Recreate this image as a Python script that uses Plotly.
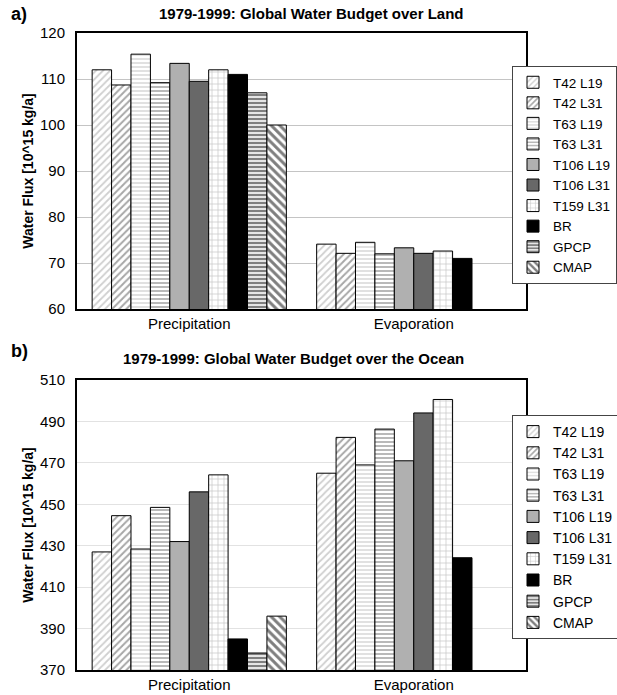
import plotly.graph_objects as go

# Data: global water budget 1979-1999 (10^15 kg/a)
categories = ["Precipitation", "Evaporation"]
series_names = ["T42 L19", "T42 L31", "T63 L19", "T63 L31", "T106 L19",
                "T106 L31", "T159 L31", "BR", "GPCP", "CMAP"]

land_precip = [112.0, 108.7, 115.4, 109.2, 113.4, 109.5, 112.0, 111.0, 107.0, 100.0]
land_evap = [74.1, 72.1, 74.5, 72.0, 73.3, 72.1, 72.6, 71.0, None, None]

ocean_precip = [427.0, 444.5, 428.4, 448.5, 432.0, 456.0, 464.2, 385.0, 378.2, 396.0]
ocean_evap = [465.0, 482.3, 469.0, 486.3, 471.0, 494.1, 500.6, 424.2, None, None]

land_ticks = [60, 70, 80, 90, 100, 110, 120]
ocean_ticks = [370, 390, 410, 430, 450, 470, 490, 510]

# Fill style per series: (background, pattern shape, pattern colour, size, solidity)
styles = [
    ("white", "/", "#a0a0a0", 5, 0.35),
    ("white", "/", "#505050", 5, 0.4),
    ("white", "-", "#a8a8a8", 4, 0.35),
    ("white", "-", "#505050", 4, 0.4),
    ("#b0b0b0", "", None, 8, 0.3),
    ("#686868", "", None, 8, 0.3),
    ("white", "+", "#8c8c8c", 6, 0.22),
    ("black", "", None, 8, 0.3),
    ("white", "-", "black", 4, 0.6),
    ("white", "\\", "black", 6, 0.5),
]

W, H = 617, 695
FONT = "Liberation Sans, Arial, sans-serif"

fig = go.Figure()


def add_group(values_p, values_e, xaxis, yaxis, legend):
    for i, name in enumerate(series_names):
        bg, shape, fg, size, sol = styles[i]
        pattern = dict(shape=shape, size=size, solidity=sol, fillmode="overlay")
        if fg:
            pattern["fgcolor"] = fg
            pattern["bgcolor"] = bg
        fig.add_trace(go.Bar(
            name=name, x=categories, y=[values_p[i], values_e[i]],
            xaxis=xaxis, yaxis=yaxis, legend=legend,
            marker=dict(color=bg, line=dict(color="black", width=1),
                        pattern=pattern),
        ))


add_group(land_precip, land_evap, "x", "y", "legend")
add_group(ocean_precip, ocean_evap, "x2", "y2", "legend2")

x_dom = [77 / W, 526 / W]
top_dom = [1 - 309 / H, 1 - 33 / H]
bot_dom = [1 - 670 / H, 1 - 380 / H]

axis_common = dict(showline=True, linecolor="black", linewidth=2, mirror=True,
                   automargin=False,
                   tickfont=dict(family=FONT, size=15, color="black"))

ytitle = dict(text="<b>Water Flux [10^15 kg/a]</b>", standoff=3,
              font=dict(family=FONT, size=14))

legend_common = dict(
    x=512 / W, xanchor="left", yanchor="top",
    bordercolor="#444444", borderwidth=1, bgcolor="white",
    itemwidth=30, traceorder="normal", tracegroupgap=0,
)

fig.update_layout(
    width=W, height=H,
    margin=dict(l=0, r=0, t=0, b=0, autoexpand=False),
    paper_bgcolor="white", plot_bgcolor="white",
    barmode="group", bargap=0.135, bargroupgap=0,
    font=dict(family=FONT, color="black"),
    xaxis=dict(domain=x_dom, anchor="y", **axis_common),
    yaxis=dict(domain=top_dom, anchor="x", range=[60, 120], tickvals=land_ticks,
               showgrid=True, gridcolor="#c4c4c4", gridwidth=1,
               ticklabelstandoff=7, title=ytitle, **axis_common),
    xaxis2=dict(domain=x_dom, anchor="y2", **axis_common),
    yaxis2=dict(domain=bot_dom, anchor="x2", range=[370, 510], tickvals=ocean_ticks,
                showgrid=True, gridcolor="#e2e2e2", gridwidth=1,
                ticklabelstandoff=7, title=ytitle, **axis_common),
    legend=dict(y=1 - 66 / H, font=dict(family=FONT, size=13.5, color="black"),
                **legend_common),
    legend2=dict(y=1 - 415 / H, font=dict(family=FONT, size=14, color="black"),
                 **legend_common),
    annotations=[
        dict(text="<b>a)</b>", x=9 / W, y=1 - 14 / H, xref="paper", yref="paper",
             xanchor="left", yanchor="middle", showarrow=False,
             font=dict(family=FONT, size=18)),
        dict(text="<b>1979-1999: Global Water Budget over Land</b>",
             x=312 / W, y=1 - 14 / H, xref="paper", yref="paper",
             xanchor="center", yanchor="middle", showarrow=False,
             font=dict(family=FONT, size=15)),
        dict(text="<b>b)</b>", x=9 / W, y=1 - 351 / H, xref="paper", yref="paper",
             xanchor="left", yanchor="middle", showarrow=False,
             font=dict(family=FONT, size=18)),
        dict(text="<b>1979-1999: Global Water Budget over the Ocean</b>",
             x=293 / W, y=1 - 358 / H, xref="paper", yref="paper",
             xanchor="center", yanchor="middle", showarrow=False,
             font=dict(family=FONT, size=15)),
    ],
)

fig.write_html("out.html")
